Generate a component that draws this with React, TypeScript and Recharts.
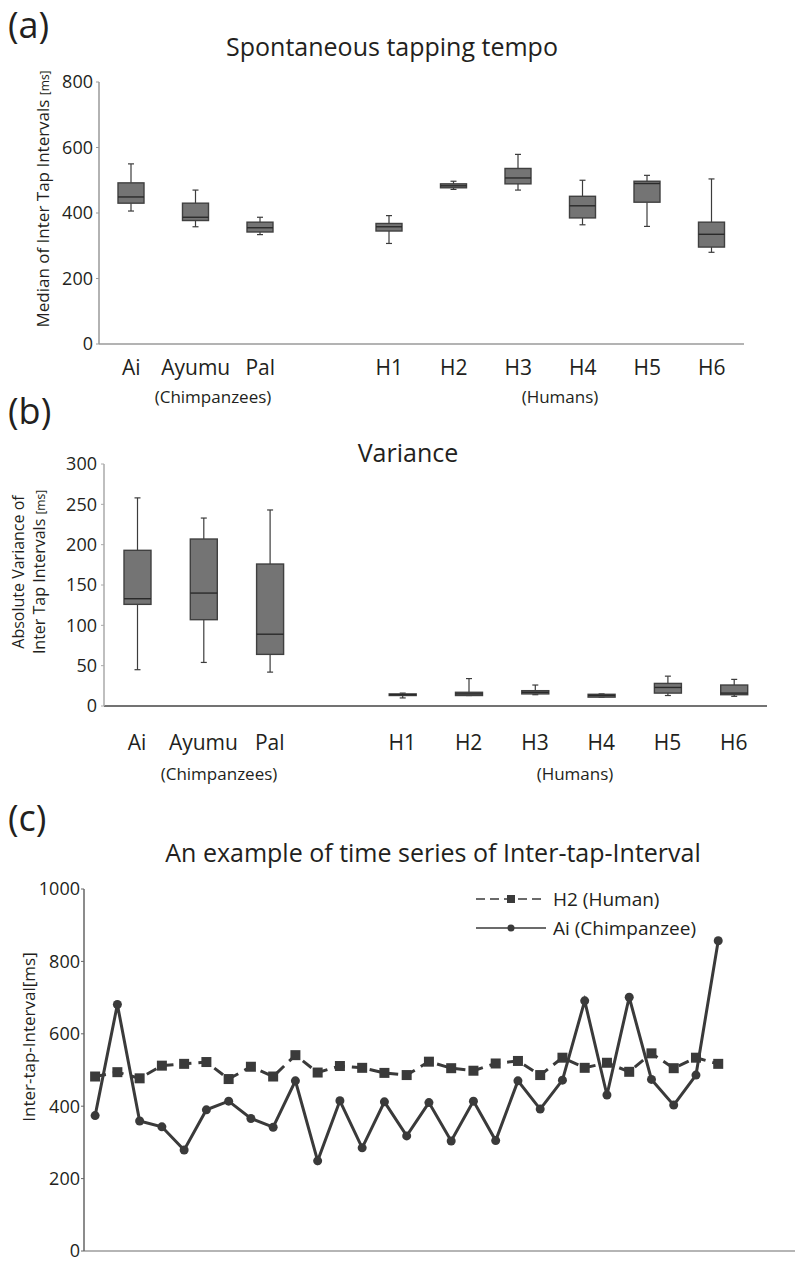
import React from "react";
import {
  ComposedChart,
  LineChart,
  Bar,
  Line,
  XAxis,
  YAxis,
} from "recharts";

// ---- (a) median of inter tap intervals, box stats per subject ----
const subjects = ["Ai", "Ayumu", "Pal", "", "H1", "H2", "H3", "H4", "H5", "H6"];

const tempoMin = [406, 358, 334, null, 307, 472, 470, 364, 359, 280];
const tempoQ1 = [430, 377, 342, null, 345, 477, 489, 385, 433, 296];
const tempoMed = [449, 387, 355, null, 358, 483, 507, 422, 490, 335];
const tempoQ3 = [492, 430, 372, null, 368, 489, 536, 451, 497, 372];
const tempoMax = [550, 470, 387, null, 392, 497, 579, 500, 515, 504];
const tempoTicks = [0, 200, 400, 600, 800];

// ---- (b) absolute variance ----
const varMin = [45, 54, 42, null, 10, 13, 14, 11, 13, 12];
const varQ1 = [126, 107, 64, null, 13, 13, 15, 11, 16, 14];
const varMed = [133, 140, 89, null, 14, 15, 17, 13, 23, 16];
const varQ3 = [193, 207, 176, null, 15, 17, 19, 14.5, 28, 26];
const varMax = [258, 233, 243, null, 16, 34, 26, 15, 37, 33];
const varTicks = [0, 50, 100, 150, 200, 250, 300];

// ---- (c) time series ----
const aiSeries = [374, 681, 359, 343, 279, 390, 414, 366, 342, 470, 249, 415, 285, 412, 318,
  410, 304, 414, 305, 470, 392, 472, 691, 431, 701, 474, 403, 486, 857];
const h2Series = [482, 494, 477, 512, 517, 522, 475, 509, 482, 541, 493, 511, 506, 492, 486,
  523, 505, 498, 518, 525, 486, 534, 506, 520, 495, 546, 505, 534, 517];
const itiTicks = [0, 200, 400, 600, 800, 1000];

const FONT = '"Open Sans", "Noto Sans", sans-serif';
const INK = "#231f20";

function boxRows(mn: any[], q1: any[], md: any[], q3: any[], mx: any[]) {
  return subjects.map((name, i) => ({
    name,
    min: mn[i],
    q1: q1[i],
    med: md[i],
    q3: q3[i],
    max: mx[i],
    range: mn[i] == null ? null : [mn[i], mx[i]],
  }));
}

const tempoRows = boxRows(tempoMin, tempoQ1, tempoMed, tempoQ3, tempoMax);
const varRows = boxRows(varMin, varQ1, varMed, varQ3, varMax);
const itiRows = aiSeries.map((v, i) => ({ tap: i + 1, ai: v, h2: h2Series[i] }));

// box + whiskers drawn inside the pixel range that the bar [min,max] was given
const BoxShape = (props: any) => {
  const { x, y, width, height, payload } = props;
  if (payload == null || payload.min == null) return null;
  const top = Math.min(y, y + height);
  const bot = Math.max(y, y + height);
  const span = payload.max - payload.min;
  const py = (v: number) => (span === 0 ? top : bot - ((v - payload.min) / span) * (bot - top));
  const cx = x + width / 2;
  const cap = 3;
  return (
    <g>
      <line x1={cx} x2={cx} y1={py(payload.max)} y2={py(payload.q3)} stroke="#3c3c3c" strokeWidth={1.2} />
      <line x1={cx} x2={cx} y1={py(payload.q1)} y2={py(payload.min)} stroke="#3c3c3c" strokeWidth={1.2} />
      <line x1={cx - cap} x2={cx + cap} y1={py(payload.max)} y2={py(payload.max)} stroke="#3c3c3c" strokeWidth={1.2} />
      <line x1={cx - cap} x2={cx + cap} y1={py(payload.min)} y2={py(payload.min)} stroke="#3c3c3c" strokeWidth={1.2} />
      <rect
        x={x}
        y={py(payload.q3)}
        width={width}
        height={Math.max(py(payload.q1) - py(payload.q3), 1)}
        fill="#747474"
        stroke="#404040"
        strokeWidth={1.4}
      />
      <line x1={x} x2={x + width} y1={py(payload.med)} y2={py(payload.med)} stroke="#2a2a2a" strokeWidth={1.4} />
    </g>
  );
};

const SquareDot = (props: any) => {
  const { cx, cy, index } = props;
  if (cx == null || cy == null) return null;
  return <rect key={index} x={cx - 5} y={cy - 5} width={10} height={10} fill="#3a3a3a" />;
};

const Text = ({ x, y, size, children, center }: any) => (
  <div
    style={{
      position: "absolute",
      left: x,
      top: y,
      transform: center ? "translate(-50%, -50%)" : "translate(0, -50%)",
      fontSize: size,
      whiteSpace: "nowrap",
      color: INK,
      lineHeight: 1,
    }}
  >
    {children}
  </div>
);

const VText = ({ x, y, size, children }: any) => (
  <div
    style={{
      position: "absolute",
      left: x,
      top: y,
      transform: "translate(-50%, -50%) rotate(-90deg)",
      fontSize: size,
      whiteSpace: "nowrap",
      color: INK,
      lineHeight: 1.3,
      textAlign: "center",
    }}
  >
    {children}
  </div>
);

const legendItems = [
  { label: "H2 (Human)", dash: "9 5", square: true },
  { label: "Ai (Chimpanzee)", dash: undefined, square: false },
];

const LegendBox = () => (
  <div style={{ position: "absolute", left: 476, top: 884, fontFamily: FONT, color: INK, fontSize: 19 }}>
    {legendItems.map((it) => (
      <div key={it.label} style={{ display: "flex", alignItems: "center", height: 29 }}>
        <svg width={76} height={16}>
          <line x1={0} x2={70} y1={8} y2={8} stroke="#3a3a3a" strokeWidth={1.5} strokeDasharray={it.dash} />
          {it.square ? (
            <rect x={31} y={4} width={8} height={8} fill="#3a3a3a" />
          ) : (
            <circle cx={35} cy={8} r={3.5} fill="#3a3a3a" />
          )}
        </svg>
        <span style={{ marginLeft: 1 }}>{it.label}</span>
      </div>
    ))}
  </div>
);

const tickStyle = { fill: INK, fontSize: 18, fontFamily: FONT };
const catTickStyle = { fill: INK, fontSize: 21, fontFamily: FONT };

export default function App() {
  return (
    <div
      style={{
        position: "absolute",
        left: 0,
        top: 0,
        width: 795,
        height: 1261,
        background: "#fff",
        fontFamily: FONT,
        overflow: "hidden",
      }}
    >
      {/* (a) */}
      <div style={{ position: "absolute", left: 0, top: 0 }}>
        <ComposedChart width={795} height={384} data={tempoRows} margin={{ top: 82, right: 51, bottom: 0, left: 39 }}>
          <XAxis
            dataKey="name"
            interval={0}
            tickLine={false}
            tickSize={0}
            tickMargin={16}
            axisLine={{ stroke: "#9a9a9a", strokeWidth: 1.5 }}
            tick={catTickStyle}
            height={40}
          />
          <YAxis
            domain={[0, 800]}
            ticks={tempoTicks}
            interval={0}
            width={60}
            tickSize={3}
            tickMargin={3}
            axisLine={{ stroke: "#9a9a9a", strokeWidth: 1.5 }}
            tickLine={{ stroke: "#9a9a9a" }}
            tick={tickStyle}
          />
          <Bar dataKey="range" barSize={26} shape={<BoxShape />} isAnimationActive={false} />
        </ComposedChart>
      </div>

      {/* (b) */}
      <div style={{ position: "absolute", left: 0, top: 400 }}>
        <ComposedChart width={795} height={366} data={varRows} margin={{ top: 64, right: 28, bottom: 0, left: 44 }}>
          <XAxis
            dataKey="name"
            interval={0}
            tickLine={false}
            tickSize={0}
            tickMargin={29}
            axisLine={{ stroke: "#444", strokeWidth: 1.5 }}
            tick={catTickStyle}
            height={60}
          />
          <YAxis
            domain={[0, 300]}
            ticks={varTicks}
            interval={0}
            width={60}
            tickSize={3}
            tickMargin={4}
            axisLine={{ stroke: "#aaa", strokeWidth: 1.5 }}
            tickLine={{ stroke: "#aaa" }}
            tick={tickStyle}
          />
          <Bar dataKey="range" barSize={27} shape={<BoxShape />} isAnimationActive={false} />
        </ComposedChart>
      </div>

      {/* (c) */}
      <div style={{ position: "absolute", left: 0, top: 780 }}>
        <LineChart width={795} height={481} data={itiRows} margin={{ top: 109, right: 0, bottom: 9, left: 24 }}>
          <XAxis
            dataKey="tap"
            type="number"
            domain={[0.5, 32.45]}
            tick={false}
            tickLine={false}
            axisLine={{ stroke: "#b5b5b5", strokeWidth: 2 }}
            height={1}
          />
          <YAxis
            domain={[0, 1000]}
            ticks={itiTicks}
            interval={0}
            width={60}
            tickSize={3}
            tickMargin={1}
            axisLine={{ stroke: "#666", strokeWidth: 1.5 }}
            tickLine={{ stroke: "#666" }}
            tick={tickStyle}
          />
          <Line
            dataKey="h2"
            stroke="#3a3a3a"
            strokeWidth={3}
            strokeDasharray="11 7"
            dot={<SquareDot />}
            isAnimationActive={false}
          />
          <Line
            dataKey="ai"
            stroke="#3a3a3a"
            strokeWidth={3}
            dot={{ r: 4.5, fill: "#3a3a3a", stroke: "#3a3a3a", strokeWidth: 0 }}
            isAnimationActive={false}
          />
        </LineChart>
      </div>
      <LegendBox />

      {/* panel letters and titles */}
      <Text x={8} y={25} size={36}>(a)</Text>
      <Text x={392} y={46} size={25} center>Spontaneous tapping tempo</Text>
      <VText x={43} y={199} size={17}>
        Median of Inter Tap Intervals <span style={{ fontSize: 12 }}>[ms]</span>
      </VText>
      <Text x={213} y={396} size={17} center>(Chimpanzees)</Text>
      <Text x={560} y={396} size={17} center>(Humans)</Text>

      <Text x={8} y={411} size={36}>(b)</Text>
      <Text x={408} y={452} size={25} center>Variance</Text>
      <VText x={29} y={572} size={16}>
        Absolute Variance of
        <br />
        Inter Tap Intervals <span style={{ fontSize: 12 }}>[ms]</span>
      </VText>
      <Text x={219} y={773} size={17} center>(Chimpanzees)</Text>
      <Text x={575} y={773} size={17} center>(Humans)</Text>

      <Text x={8} y={818} size={36}>(c)</Text>
      <Text x={433} y={852} size={25} center>An example of time series of Inter-tap-Interval</Text>
      <VText x={29} y={1037} size={17}>Inter-tap-Interval[ms]</VText>
    </div>
  );
}
